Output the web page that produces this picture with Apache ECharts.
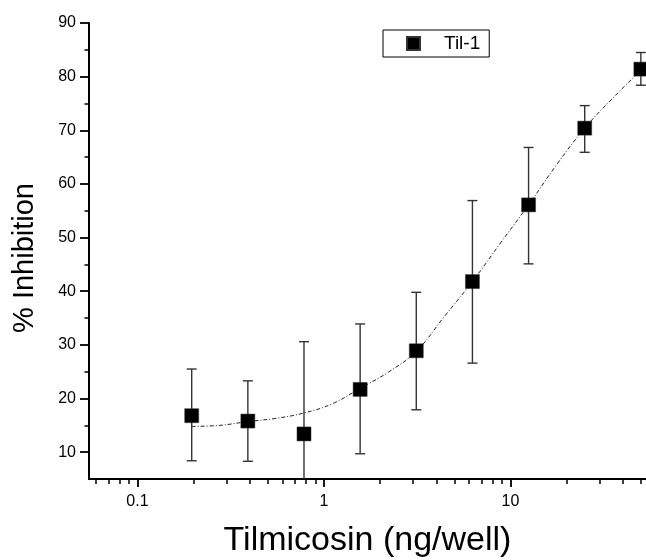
<!DOCTYPE html>
<html>
<head>
<meta charset="utf-8">
<script src="https://cdn.jsdelivr.net/npm/echarts@6/dist/echarts.min.js"></script>
<style>html,body{margin:0;padding:0;background:#fff;}#c{width:646px;height:560px;}</style>
</head>
<body>
<div id="c"></div>
<script>
// ---- data ----
var concentrations = [0.1953125, 0.390625, 0.78125, 1.5625, 3.125, 6.25, 12.5, 25, 50];
var inhibition     = [16.8, 15.8, 13.4, 21.7, 28.9, 41.8, 56.1, 70.4, 81.4];
var errUpper       = [25.5, 23.3, 30.6, 33.9, 39.8, 56.9, 66.8, 74.6, 84.5];
var errLower       = [8.4, 8.3, -4.0, 9.7, 17.9, 26.6, 45.1, 65.9, 78.4];
var fitX = [0.1953, 0.2762, 0.3906, 0.5524, 0.7813, 1.105, 1.5625, 2.21, 3.125, 4.42, 6.25, 8.84, 12.5, 17.68, 25, 35.36, 50];
var fitY = [14.8, 15.0, 15.7, 16.3, 17.3, 19.0, 21.9, 24.9, 28.8, 35.3, 41.8, 49.0, 56.1, 63.6, 70.4, 76.0, 81.2];
var xMajorTicks = [0.1, 1, 10];
var xMinorTicks = [0.06, 0.07, 0.08, 0.09, 0.2, 0.3, 0.4, 0.5, 0.6, 0.7, 0.8, 0.9, 2, 3, 4, 5, 6, 7, 8, 9, 20, 30, 40, 50];
var yMajorTicks = [10, 20, 30, 40, 50, 60, 70, 80, 90];
var yMinorTicks = [15, 25, 35, 45, 55, 65, 75, 85];
var seriesName = 'Til-1';

var FONT = "'Liberation Sans', Arial, sans-serif";
var X_MIN = 0.054954, X_MAX = 53.28;

var pts = concentrations.map(function (x, i) { return [x, inhibition[i]]; });
var errs = concentrations.map(function (x, i) { return [x, errLower[i], errUpper[i]]; });
var fit = fitX.map(function (x, i) { return [x, fitY[i]]; });

var chart = echarts.init(document.getElementById('c'), null, {renderer: 'canvas'});
chart.setOption({
  animation: false,
  backgroundColor: '#ffffff',
  grid: {left: 89, right: 0, top: 23, bottom: 81, containLabel: false, outerBoundsMode: 'none'},
  legend: {
    data: [seriesName],
    left: 383, top: 30,
    orient: 'horizontal',
    icon: 'rect',
    itemWidth: 13, itemHeight: 13,
    padding: [4, 9, 4, 23],
    borderColor: '#000', borderWidth: 1,
    formatter: function (n) { return '{t|' + n + '}'; },
    textStyle: {fontFamily: FONT, fontSize: 19, color: '#000',
      rich: {t: {fontFamily: FONT, fontSize: 19, color: '#000', padding: [0, 0, 0, 19]}}}
  },
  xAxis: [{
    type: 'log', logBase: 10, min: X_MIN, max: X_MAX, gridIndex: 0, position: 'bottom',
    name: 'Tilmicosin (ng/well)', nameLocation: 'middle', nameGap: 45,
    nameTextStyle: {fontFamily: FONT, fontSize: 34, color: '#000'},
    axisLine: {show: true, onZero: false, lineStyle: {color: '#000', width: 2}},
    axisTick: {show: true, inside: false, length: 8, customValues: xMajorTicks, lineStyle: {color: '#000', width: 1.8}},
    axisLabel: {show: true, customValues: xMajorTicks, margin: 15, fontFamily: FONT, fontSize: 16, color: '#000',
      formatter: function (v) { return String(v); }},
    splitLine: {show: false}
  }, {
    type: 'log', logBase: 10, min: X_MIN, max: X_MAX, gridIndex: 0, position: 'bottom',
    axisLine: {show: false},
    axisTick: {show: true, inside: false, length: 5, customValues: xMinorTicks, lineStyle: {color: '#000', width: 1.5}},
    axisLabel: {show: false},
    splitLine: {show: false}
  }],
  yAxis: [{
    type: 'value', min: 5, max: 90, gridIndex: 0, position: 'left',
    name: '% Inhibition', nameLocation: 'middle', nameGap: 50,
    nameTextStyle: {fontFamily: FONT, fontSize: 29, color: '#000', padding: [0, 14, 0, 0]},
    axisLine: {show: true, onZero: false, lineStyle: {color: '#000', width: 2}},
    axisTick: {show: true, inside: false, length: 9, customValues: yMajorTicks, lineStyle: {color: '#000', width: 1.8}},
    axisLabel: {show: true, customValues: yMajorTicks, margin: 13, fontFamily: FONT, fontSize: 16, color: '#000'},
    splitLine: {show: false}
  }, {
    type: 'value', min: 5, max: 90, gridIndex: 0, position: 'left',
    axisLine: {show: false},
    axisTick: {show: true, inside: false, length: 4.5, customValues: yMinorTicks, lineStyle: {color: '#000', width: 1.5}},
    axisLabel: {show: false},
    splitLine: {show: false}
  }],
  series: [{
    name: 'fit', type: 'line', xAxisIndex: 0, yAxisIndex: 0,
    data: fit, smooth: 0.4, showSymbol: false, symbol: 'none', silent: true,
    lineStyle: {color: '#222', width: 1, type: [4, 2, 1, 2]}, z: 1
  }, {
    name: 'err', type: 'custom', xAxisIndex: 0, yAxisIndex: 0, clip: true, silent: true, z: 2,
    encode: {x: 0, y: [1, 2]},
    data: errs,
    renderItem: function (params, api) {
      var x = api.value(0);
      var lo = api.coord([x, api.value(1)]);
      var hi = api.coord([x, api.value(2)]);
      var hw = 5;
      var st = {stroke: '#333', lineWidth: 1.4};
      return {type: 'group', children: [
        {type: 'line', shape: {x1: hi[0], y1: hi[1], x2: lo[0], y2: lo[1]}, style: st},
        {type: 'line', shape: {x1: hi[0] - hw, y1: hi[1], x2: hi[0] + hw, y2: hi[1]}, style: st},
        {type: 'line', shape: {x1: lo[0] - hw, y1: lo[1], x2: lo[0] + hw, y2: lo[1]}, style: st}
      ]};
    }
  }, {
    name: seriesName, type: 'scatter', xAxisIndex: 0, yAxisIndex: 0,
    data: pts, symbol: 'rect', symbolSize: 14,
    itemStyle: {color: '#000', borderColor: '#333', borderWidth: 0.5, opacity: 1}, z: 3
  }]
});
</script>
</body>
</html>
